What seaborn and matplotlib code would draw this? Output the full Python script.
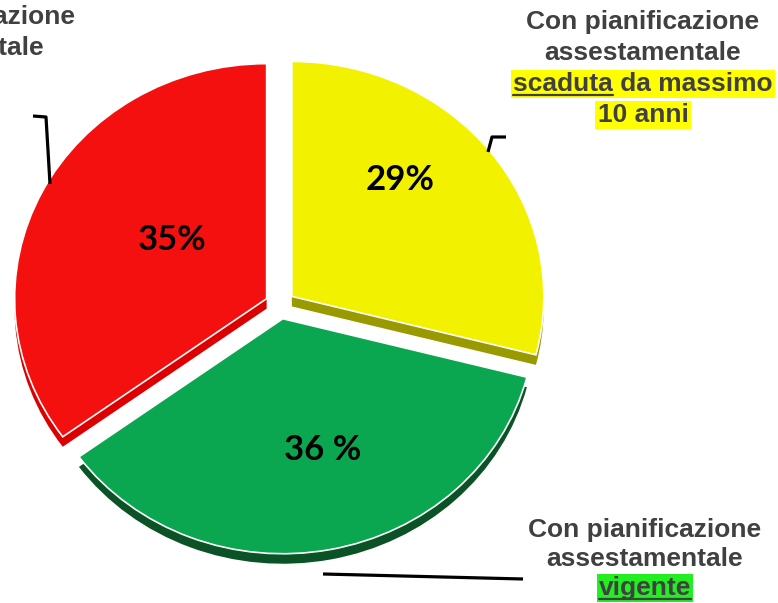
import matplotlib
matplotlib.use('Agg')
import matplotlib.pyplot as plt
import seaborn as sns

# dati
shares = [29, 36, 35]  # scaduta <=10 anni, vigente, senza
pct_labels = ['29%', '36 %', '35%']
top_colors = ['#F2F200', '#0BA650', '#F51010']
side_colors = ['#999900', '#0B5226', '#DD0000']

label_senza = ['Senza pianificazione', 'assestamentale']
label_scaduta = ['Con pianificazione', 'assestamentale', 'scaduta da massimo', '10 anni']
label_vigente = ['Con pianificazione', 'assestamentale', 'vigente']

sns.set_style('white')

W, H = 778, 603
fig = plt.figure(figsize=(W / 100, H / 100), dpi=100)

# torta (leggermente schiacciata in verticale)
k = 252 / 235
ax = fig.add_axes([0, 0, 1, 1])
centro = (280, (H - 305) * k)
raggio = 252
esplodi = [15] * 3  # in unita' dati

# lato 3D (ombra)
ax.pie(shares, colors=side_colors, startangle=90, counterclock=False,
       explode=esplodi, radius=raggio, center=(centro[0], centro[1] - 10 * k),
       wedgeprops=dict(linewidth=0))
# superficie
ax.pie(shares, colors=top_colors, startangle=90, counterclock=False,
       explode=esplodi, radius=raggio, center=centro,
       wedgeprops=dict(edgecolor='white', linewidth=1.2))
ax.set_aspect('auto')
ax.set_xlim(0, W)
ax.set_ylim(0, H * k)
ax.axis('off')

# livello testi in coordinate pixel
ov = fig.add_axes([0, 0, 1, 1])
ov.set_xlim(0, W)
ov.set_ylim(H, 0)
ov.axis('off')

pct_pos = [(400, 180), (323, 450), (172, 240)]
for (x, y), t in zip(pct_pos, pct_labels):
    ov.text(x, y, t, ha='center', va='center', fontsize=25, fontweight='bold',
            family='Lato', color='black')

grigio = '#404040'
kw = dict(ha='center', va='center', fontsize=19, fontweight='bold',
          family='Liberation Sans', color=grigio)

# etichetta rossa (tagliata a sinistra)
for i, riga in enumerate(label_senza):
    ov.text(-54, 17 + 31 * i, riga, **kw)

# etichetta gialla
testi_gialli = []
for i, riga in enumerate(label_scaduta):
    extra = {}
    if i >= 2:
        extra['bbox'] = dict(boxstyle='square,pad=0.08', fc='#FFFF00', ec='none')
    testi_gialli.append(ov.text(643, 22 + 31 * i, riga, **kw, **extra))

# etichetta verde
testi_verdi = []
for i, riga in enumerate(label_vigente):
    extra = {}
    if i == 2:
        extra['bbox'] = dict(boxstyle='square,pad=0.08', fc='#22EE22', ec='none')
    testi_verdi.append(ov.text(645, 530 + 29 * i, riga, **kw, **extra))

# sottolineature
fig.canvas.draw()
r = fig.canvas.get_renderer()
tmp = ov.text(0, 0, 'scaduta', **kw)
w_scad = tmp.get_window_extent(r).width
tmp.remove()
bb = testi_gialli[2].get_window_extent(r)
ov.plot([bb.x0, bb.x0 + w_scad], [H - bb.y0 - 1, H - bb.y0 - 1], color=grigio,
        lw=1.6, zorder=6)
bb = testi_verdi[2].get_window_extent(r)
ov.plot([bb.x0, bb.x1], [H - bb.y0 - 1, H - bb.y0 - 1], color=grigio, lw=1.6, zorder=6)

# linee di richiamo
ov.plot([33, 46, 50], [116, 117, 184], color='black', lw=2.3, solid_capstyle='butt')
ov.plot([488, 492, 506], [152, 137, 137], color='black', lw=2.3, solid_capstyle='butt')
ov.plot([323, 523], [574, 579], color='black', lw=2.3, solid_capstyle='butt')

fig.savefig('out.png', dpi=100)
